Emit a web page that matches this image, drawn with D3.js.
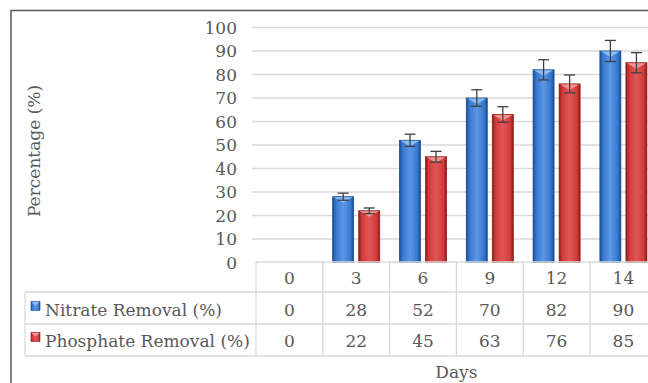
<!DOCTYPE html>
<html>
<head>
<meta charset="utf-8">
<script src="https://cdn.jsdelivr.net/npm/d3@7"></script>
<style>
  body { margin: 0; background: #fff; }
  svg { display: block; font-family: "DejaVu Serif", serif; }
  .lbl { fill: #595959; font-size: 17px; }
</style>
</head>
<body>
<div id="chart"></div>
<script>
const days = ["0", "3", "6", "9", "12", "14"];
const nitrate = [0, 28, 52, 70, 82, 90];
const phosphate = [0, 22, 45, 63, 76, 85];
const nitrateErr = [0, 1.5, 2.6, 3.5, 4.3, 4.5];
const phosphateErr = [0, 1.2, 2.3, 3.3, 3.8, 4.3];
const seriesNames = ["Nitrate Removal (%)", "Phosphate Removal (%)"];
const yTicks = [0, 10, 20, 30, 40, 50, 60, 70, 80, 90, 100];

const width = 648, height = 383;

const series = [
	{ key: "n", name: seriesNames[0], values: nitrate, err: nitrateErr, dark: "#1b4c8f", mid: "#3677d1", light: "#5b97e3", cap: "#8fc3f7" },
	{ key: "p", name: seriesNames[1], values: phosphate, err: phosphateErr, dark: "#8e1b1b", mid: "#d23a3a", light: "#e05757", cap: "#f29a9a" }
];

const svg = d3.select("#chart").append("svg")
	.attr("width", width)
	.attr("height", height);

// horizontal gradients for the "cylinder" look of the bars
const defs = svg.append("defs");
series.forEach(s => {
	let lg = defs.append("linearGradient")
		.attr("id", "grad-" + s.key)
		.attr("x1", "0").attr("x2", "1").attr("y1", "0").attr("y2", "0");
	[[0, s.dark], [0.15, s.mid], [0.5, s.light], [0.85, s.mid], [1, s.dark]].forEach(st => {
		lg.append("stop").attr("offset", st[0]).attr("stop-color", st[1]);
	});
});

// chart frame (only top and left edges fall inside the picture)
svg.append("path")
	.attr("d", "M11,400 V10.5 H660")
	.attr("fill", "none")
	.attr("stroke", "#595959")
	.attr("stroke-width", 1.5);

const xScale = d3.scaleBand()
	.domain(days)
	.range([256, 656.8])
	.paddingInner(0)
	.paddingOuter(0);

const xInner = d3.scaleBand()
	.domain(series.map(s => s.key))
	.range([0, xScale.bandwidth()])
	.paddingInner(0.195)
	.paddingOuter(0.38);

const yScale = d3.scaleLinear()
	.domain([0, 100])
	.range([262.5, 27.5]);

// gridlines
svg.append("g")
	.selectAll("line")
	.data(yTicks.slice(1))
	.join("line")
	.attr("x1", 252)
	.attr("x2", width)
	.attr("y1", d => yScale(d))
	.attr("y2", d => yScale(d))
	.attr("stroke", "#d9d9d9")
	.attr("stroke-width", 1.3);

// y axis labels
svg.append("g")
	.selectAll("text")
	.data(yTicks)
	.join("text")
	.attr("class", "lbl")
	.attr("x", 237)
	.attr("y", d => yScale(d) + 6.3)
	.attr("text-anchor", "end")
	.text(d => d);

svg.append("text")
	.attr("class", "lbl")
	.attr("transform", `translate(40,151) rotate(-90)`)
	.attr("text-anchor", "middle")
	.text("Percentage (%)");

// bars
const bw = xInner.bandwidth();
series.forEach(s => {
	let g = svg.append("g");
	let data = days.map((d, i) => ({ day: d, value: s.values[i], err: s.err[i] }))
		.filter(d => d.value > 0);
	g.selectAll("rect")
		.data(data)
		.join("rect")
		.attr("x", d => xScale(d.day) + xInner(s.key))
		.attr("y", d => yScale(d.value))
		.attr("width", bw)
		.attr("height", d => yScale(0) - yScale(d.value))
		.attr("fill", `url(#grad-${s.key})`)
		.attr("stroke", s.dark)
		.attr("stroke-width", 0.8);
	// bevel triangle on top
	g.selectAll("path.bevel")
		.data(data)
		.join("path")
		.attr("class", "bevel")
		.attr("d", d => {
			let x0 = xScale(d.day) + xInner(s.key), y0 = yScale(d.value);
			return `M${x0 + 1},${y0 + 0.5} H${x0 + bw - 1} L${x0 + bw / 2},${y0 + 6} Z`;
		})
		.attr("fill", s.cap)
		.attr("opacity", 0.9);
	// error bars
	let eg = g.selectAll("g.err")
		.data(data)
		.join("g")
		.attr("class", "err")
		.attr("stroke", "#404040")
		.attr("stroke-width", 1.3);
	eg.append("line")
		.attr("x1", d => xScale(d.day) + xInner(s.key) + bw / 2)
		.attr("x2", d => xScale(d.day) + xInner(s.key) + bw / 2)
		.attr("y1", d => yScale(d.value + d.err))
		.attr("y2", d => yScale(d.value - d.err));
	[1, -1].forEach(sign => {
		eg.append("line")
			.attr("x1", d => xScale(d.day) + xInner(s.key) + bw / 2 - 5.5)
			.attr("x2", d => xScale(d.day) + xInner(s.key) + bw / 2 + 5.5)
			.attr("y1", d => yScale(d.value + sign * d.err))
			.attr("y2", d => yScale(d.value + sign * d.err));
	});
});

// data table
const rowTop = [262, 292, 324, 356];
const tbl = svg.append("g").attr("stroke", "#d9d9d9").attr("stroke-width", 1.3).attr("fill", "none");
tbl.append("line").attr("x1", 256).attr("x2", width).attr("y1", rowTop[0]).attr("y2", rowTop[0]);
rowTop.slice(1).forEach(y => {
	tbl.append("line").attr("x1", 25).attr("x2", width).attr("y1", y).attr("y2", y);
});
tbl.append("line").attr("x1", 25).attr("x2", 25).attr("y1", rowTop[1]).attr("y2", rowTop[3]);
days.forEach(d => {
	tbl.append("line")
		.attr("x1", xScale(d)).attr("x2", xScale(d))
		.attr("y1", rowTop[0]).attr("y2", rowTop[3]);
});

svg.append("g")
	.selectAll("text")
	.data(days)
	.join("text")
	.attr("class", "lbl")
	.attr("x", d => xScale(d) + xScale.bandwidth() / 2)
	.attr("y", 283.5)
	.attr("text-anchor", "middle")
	.text(d => d);

series.forEach((s, si) => {
	let base = [315.5, 346.5][si];
	svg.append("g")
		.selectAll("text")
		.data(days.map((d, i) => ({ day: d, value: s.values[i] })))
		.join("text")
		.attr("class", "lbl")
		.attr("x", d => xScale(d.day) + xScale.bandwidth() / 2)
		.attr("y", base)
		.attr("text-anchor", "middle")
		.text(d => d.value);
	// legend key
	svg.append("rect")
		.attr("x", 31)
		.attr("y", base - 14)
		.attr("width", 9)
		.attr("height", 9)
		.attr("fill", `url(#grad-${s.key})`)
		.attr("stroke", s.dark)
		.attr("stroke-width", 0.6);
	svg.append("path")
		.attr("d", `M31.5,${base - 13.5} H39.5 L35.5,${base - 10} Z`)
		.attr("fill", s.cap);
	svg.append("text")
		.attr("class", "lbl")
		.attr("x", 45)
		.attr("y", base)
		.text(s.name);
});

svg.append("text")
	.attr("class", "lbl")
	.attr("x", (xScale.range()[0] + xScale.range()[1]) / 2)
	.attr("y", 377.5)
	.attr("text-anchor", "middle")
	.text("Days");
</script>
</body>
</html>
